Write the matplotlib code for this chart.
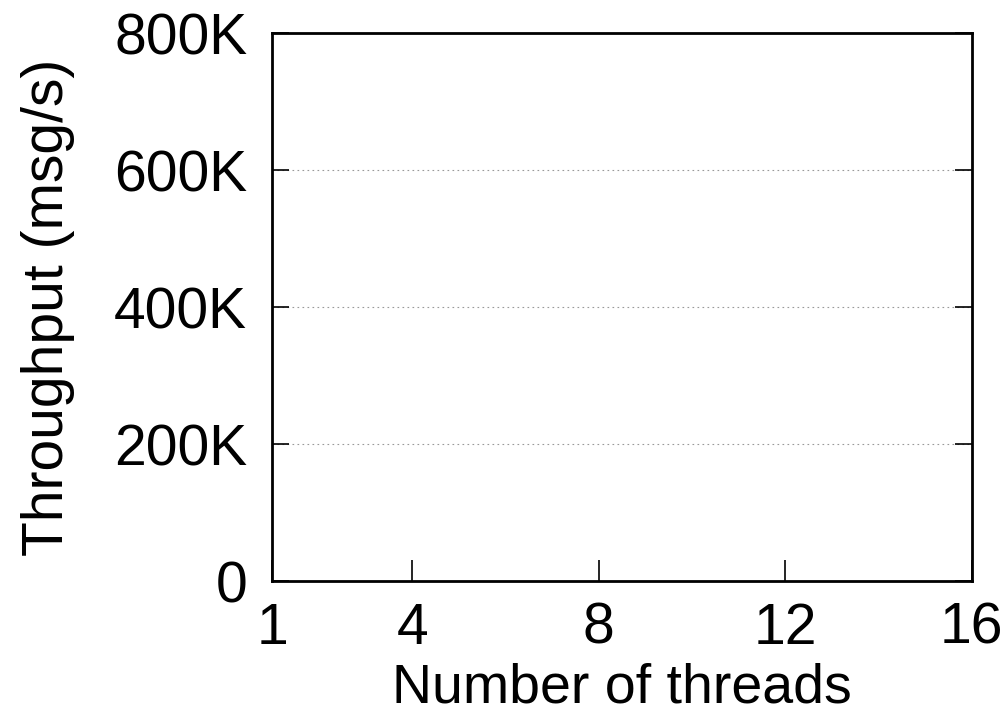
import matplotlib.pyplot as plt

plt.rcParams['font.family'] = ['Liberation Sans', 'DejaVu Sans']

# Axis values (the plot area holds no series)
x_ticks = [1, 4, 8, 12, 16]
y_ticks = [0, 200000, 400000, 600000, 800000]
y_tick_labels = ["0", "200K", "400K", "600K", "800K"]

fig = plt.figure(figsize=(10.08, 7.21), dpi=100)
ax = fig.add_axes([0.270, 0.194, 0.694, 0.760])

ax.set_xlim(1, 16)
ax.set_ylim(0, 800000)
ax.set_xticks(x_ticks)
ax.set_xticklabels([str(t) for t in x_ticks])
ax.set_yticks(y_ticks)
ax.set_yticklabels(y_tick_labels)

ax.tick_params(axis='both', direction='in', labelsize=41, width=1.2)
ax.tick_params(axis='x', length=15, pad=15)
ax.tick_params(axis='y', length=12, pad=18, right=True)

for spine in ax.spines.values():
    spine.set_linewidth(2)

ax.yaxis.grid(True, linestyle=(0, (1.5, 3)), color='#999999', linewidth=0.8)

ax.set_xlabel("Number of threads", fontsize=40, labelpad=5)
ax.set_ylabel("Throughput (msg/s)", fontsize=41, labelpad=28)

plt.savefig('out.png', dpi=100)
